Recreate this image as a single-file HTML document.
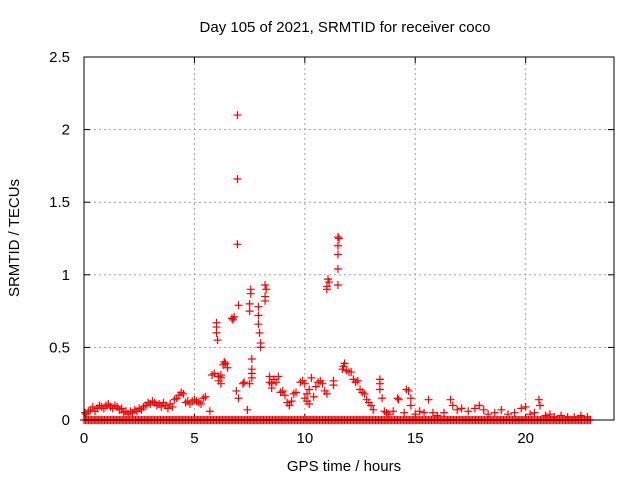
<!DOCTYPE html>
<html><head><meta charset="utf-8"><style>
html,body{margin:0;padding:0;background:#fff;}
svg text{font-family:"Liberation Sans",sans-serif;font-size:15px;fill:#000;}
</style></head><body>
<svg id="chart" width="640" height="480" xmlns="http://www.w3.org/2000/svg">
<rect width="640" height="480" fill="#fff"/>
<text x="345" y="32" text-anchor="middle">Day 105 of 2021, SRMTID for receiver coco</text>
<g id="grid"></g>
<g id="ticks"></g>
<g id="points"></g>
<rect x="84" y="57" width="530" height="363" fill="none" stroke="#000" stroke-width="1"/>
<text x="344" y="471" text-anchor="middle">GPS time / hours</text>
<text x="19" y="238" text-anchor="middle" transform="rotate(-90 19 238)">SRMTID / TECUs</text>
</svg>
<script>
const xTicks = [0, 5, 10, 15, 20];
const yTicks = [0, 0.5, 1, 1.5, 2, 2.5];
const yTickLabels = ["0", "0.5", "1", "1.5", "2", "2.5"];
const zeroTimes = [0,0.2,0.4,0.6,0.8,1,1.2,1.4,1.6,1.8,2,2.2,2.4,2.6,2.8,3,3.2,3.4,3.6,3.8,4,4.2,4.4,4.6,4.8,5,5.2,5.4,5.6,5.8,6,6.2,6.4,6.6,6.8,7,7.2,7.4,7.6,7.8,8,8.2,8.4,8.6,8.8,9,9.2,9.4,9.6,9.8,10,10.2,10.4,10.6,10.8,11,11.2,11.4,11.6,11.8,12,12.2,12.4,12.6,12.8,13,13.2,13.4,13.6,13.8,14,14.2,14.4,14.6,14.8,15,15.2,15.4,15.6,15.8,16,16.2,16.4,16.6,16.8,17,17.2,17.4,17.6,17.8,18,18.2,18.4,18.6,18.8,19,19.2,19.4,19.6,19.8,20,20.2,20.4,20.6,20.8,21,21.2,21.4,21.6,21.8,22,22.2,22.4,22.6,22.8];
const times = [0.05,0.1,0.2,0.3,0.4,0.5,0.6,0.7,0.8,0.9,1.0,1.1,1.2,1.3,1.4,1.5,1.6,1.7,1.8,1.9,2.0,2.1,2.2,2.3,2.4,2.5,2.6,2.7,2.8,2.9,3.0,3.1,3.2,3.3,3.4,3.5,3.6,3.7,3.8,3.9,4.0,4.1,4.2,4.3,4.4,4.5,4.6,4.7,4.8,4.9,5.0,5.1,5.2,5.3,5.4,5.5,5.7,5.8,5.9,6.0,6.0,6.0,6.05,6.1,6.1,6.3,6.35,6.4,6.5,6.2,6.2,6.2,6.7,6.8,6.75,6.9,6.95,6.95,6.95,7.0,7.0,7.2,7.25,7.4,7.5,7.5,7.55,7.55,7.5,7.6,7.6,7.6,7.6,7.9,7.9,7.9,7.95,8.0,8.0,8.2,8.25,8.2,8.2,8.4,8.4,8.5,8.5,8.6,8.7,8.8,8.9,9.0,9.1,9.2,9.3,9.4,9.5,9.6,9.8,9.9,10.0,10.0,10.1,10.1,10.2,10.2,10.3,10.4,10.5,10.6,10.7,10.8,10.9,11.0,11.0,11.05,11.1,11.0,11.3,11.3,11.5,11.55,11.5,11.5,11.5,11.5,11.7,11.75,11.8,11.9,12.0,12.1,12.2,12.3,12.4,12.5,12.6,12.7,12.8,12.9,13.0,13.1,13.4,13.4,13.4,13.5,13.6,13.7,13.8,14.0,14.2,14.25,14.5,14.6,14.7,14.8,14.8,15.0,15.2,15.4,15.6,15.8,16.0,16.3,16.6,16.7,16.9,17.1,17.4,17.7,17.9,18.1,18.3,18.6,18.9,19.2,19.5,19.8,20.0,20.2,20.4,20.6,20.65,20.9,21.1,21.3,21.6,21.9,22.2,22.5,22.8];
const values = [0.05,0.04,0.06,0.07,0.09,0.06,0.08,0.1,0.09,0.08,0.1,0.11,0.09,0.08,0.1,0.09,0.07,0.08,0.05,0.06,0.04,0.06,0.05,0.07,0.06,0.08,0.07,0.09,0.1,0.12,0.11,0.13,0.12,0.1,0.11,0.09,0.12,0.1,0.08,0.11,0.09,0.14,0.15,0.17,0.19,0.18,0.12,0.13,0.11,0.13,0.14,0.13,0.12,0.11,0.15,0.16,0.06,0.31,0.32,0.67,0.64,0.6,0.55,0.3,0.27,0.38,0.4,0.39,0.36,0.31,0.29,0.25,0.7,0.71,0.69,0.2,2.1,1.66,1.21,0.79,0.15,0.25,0.26,0.07,0.75,0.8,0.9,0.87,0.25,0.29,0.32,0.35,0.42,0.78,0.72,0.66,0.6,0.53,0.5,0.93,0.9,0.82,0.85,0.3,0.26,0.22,0.25,0.28,0.26,0.3,0.19,0.2,0.17,0.12,0.1,0.13,0.18,0.19,0.26,0.27,0.25,0.15,0.13,0.18,0.21,0.11,0.29,0.16,0.23,0.26,0.27,0.25,0.2,0.9,0.92,0.97,0.95,0.18,0.24,0.27,1.26,1.25,1.2,1.14,1.04,0.93,0.35,0.37,0.39,0.34,0.33,0.33,0.28,0.26,0.27,0.21,0.19,0.18,0.14,0.12,0.1,0.07,0.28,0.25,0.21,0.15,0.06,0.05,0.04,0.06,0.15,0.14,0.05,0.21,0.2,0.15,0.1,0.04,0.06,0.05,0.14,0.05,0.03,0.05,0.14,0.1,0.07,0.08,0.06,0.08,0.1,0.07,0.04,0.05,0.07,0.04,0.05,0.08,0.09,0.04,0.05,0.14,0.1,0.03,0.04,0.02,0.03,0.02,0.02,0.03,0.02];

const X0=84, X1=614, Y0=420, Y1=57, XMAX=24, YMAX=2.5;
function sx(v){return X0+(X1-X0)*v/XMAX;}
function sy(v){return Y0-(Y0-Y1)*v/YMAX;}
const NS='http://www.w3.org/2000/svg';
function mk(tag,attrs,parent){const e=document.createElementNS(NS,tag);for(const k in attrs)e.setAttribute(k,attrs[k]);parent.appendChild(e);return e;}
const grid=document.getElementById('grid'), ticks=document.getElementById('ticks'), pts=document.getElementById('points');
xTicks.forEach(function(t){
  const x=sx(t);
  if(t>0){const g=mk('line',{x1:x,y1:Y0,x2:x,y2:Y1,stroke:'#a0a0a0','stroke-dasharray':'2,3'},grid);
  
  }
  mk('line',{x1:x,y1:Y0,x2:x,y2:Y0-6,stroke:'#000'},ticks);
  mk('line',{x1:x,y1:Y1,x2:x,y2:Y1+6,stroke:'#000'},ticks);
  const l=mk('text',{x:x,y:443,'text-anchor':'middle'},ticks);
  l.textContent=String(t);
  
  
});
yTicks.forEach(function(t,i){
  const y=sy(t);
  if(t>0&&t<YMAX){const g=mk('line',{x1:X0,y1:y,x2:X1,y2:y,stroke:'#a0a0a0','stroke-dasharray':'2,3'},grid);
  
  }
  mk('line',{x1:X0,y1:y,x2:X0+6,y2:y,stroke:'#000'},ticks);
  mk('line',{x1:X1,y1:y,x2:X1-6,y2:y,stroke:'#000'},ticks);
  const l=mk('text',{x:70,y:y+5,'text-anchor':'end'},ticks);
  l.textContent=yTickLabels[i];
  
  
});
function plus(t,v){
  const x=sx(t), y=sy(v);
  const p=mk('path',{d:'M'+(x-4)+' '+y+'h8M'+x+' '+(y-4)+'v8',stroke:'#ff0000','stroke-width':1.2,fill:'none'},pts);
  
  
}
zeroTimes.forEach(function(t){plus(t,0);plus(t+0.067,0);plus(t+0.133,0);});
times.forEach(function(t,i){plus(t,values[i]);});
</script>
</body></html>
